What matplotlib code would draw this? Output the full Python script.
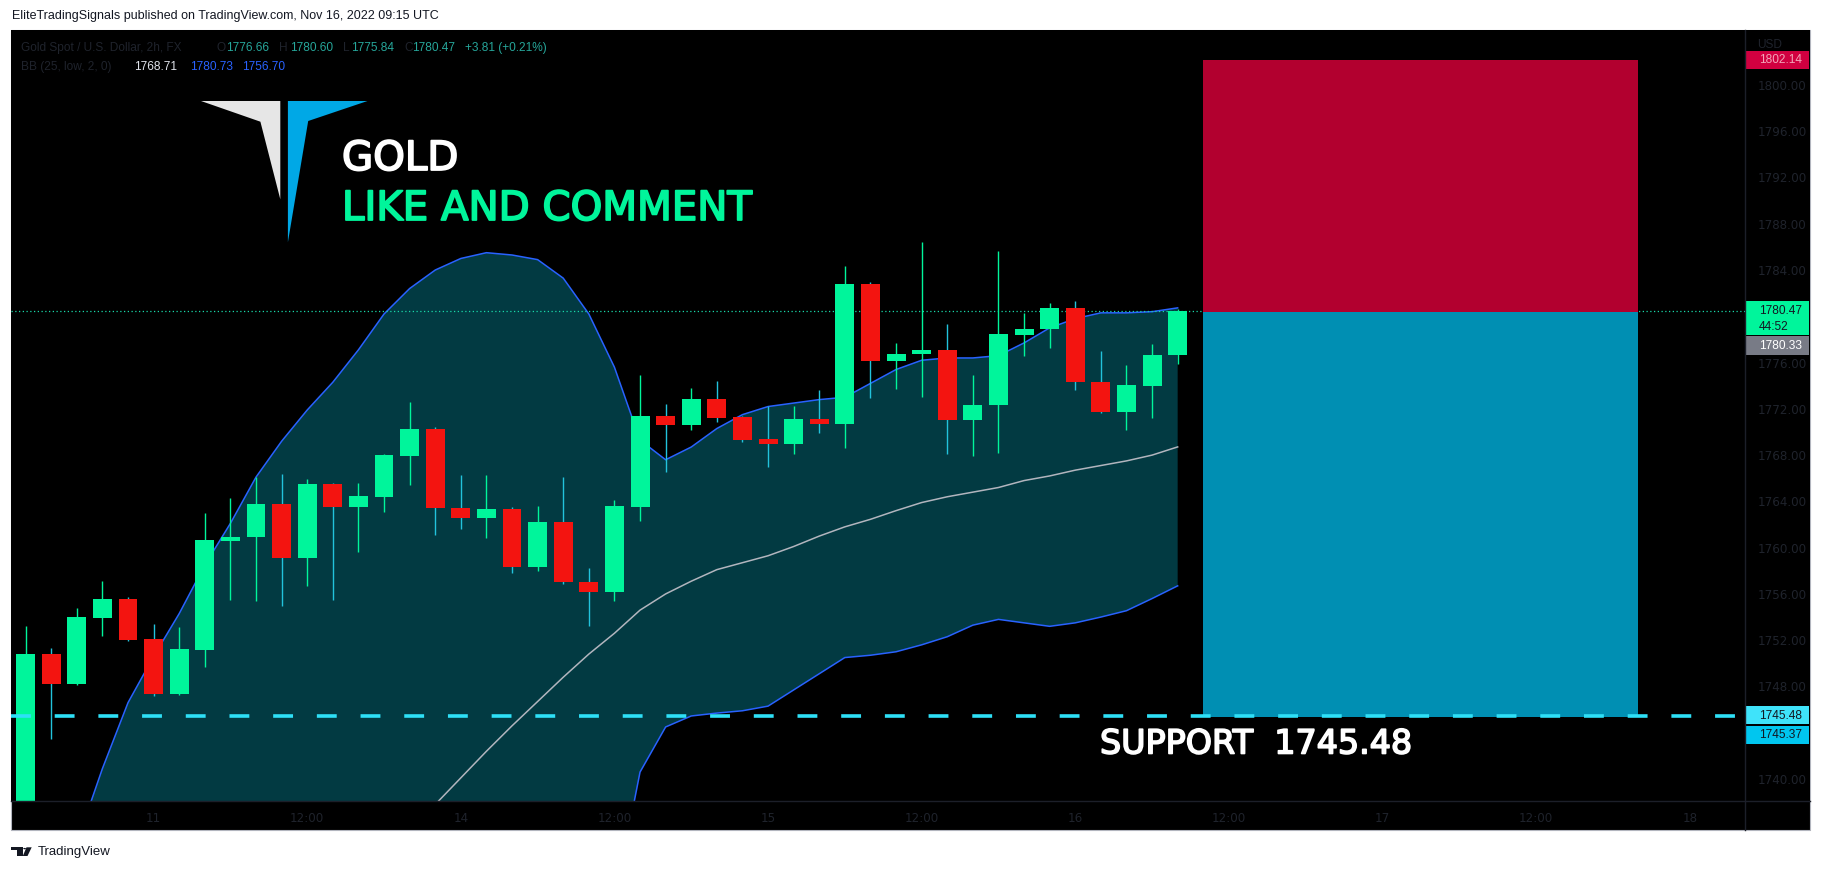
import numpy as np
import matplotlib.pyplot as plt
import matplotlib.patheffects as pe
from matplotlib.patches import Rectangle, Polygon, Circle
from matplotlib.lines import Line2D

W, H = 1823, 872

# Gold Spot / USD, 2h bars (Nov 10 14:00 UTC -> Nov 16 08:00 UTC)
opens = [1736.5, 1750.8, 1748.2, 1753.9, 1755.6, 1752.1, 1747.35, 1751.15, 1760.6, 1760.9,
         1763.8, 1759.1, 1765.5, 1763.5, 1764.4, 1767.95, 1770.3, 1763.4, 1762.6, 1763.3,
         1758.3, 1762.2, 1757.0, 1756.2, 1763.55, 1771.4, 1770.6, 1772.85, 1771.3, 1769.4,
         1769.0, 1771.1, 1770.7, 1782.8, 1776.1, 1776.7, 1777.1, 1771.0, 1772.3, 1778.4,
         1778.9, 1780.7, 1774.3, 1771.7, 1774.0, 1776.66]
highs = [1753.2, 1751.3, 1754.8, 1757.1, 1755.7, 1753.4, 1753.1, 1763.0, 1764.3, 1766.1,
         1766.4, 1765.9, 1765.6, 1765.6, 1768.1, 1772.6, 1770.4, 1766.3, 1766.3, 1763.5,
         1763.6, 1766.1, 1758.2, 1764.1, 1774.9, 1772.4, 1773.8, 1774.4, 1771.4, 1772.25,
         1772.25, 1773.6, 1784.35, 1783.0, 1777.7, 1786.4, 1779.3, 1774.9, 1785.65, 1780.3,
         1781.15, 1781.3, 1777.0, 1775.8, 1777.6, 1780.60]
lows = [1735.8, 1743.5, 1748.1, 1752.4, 1751.9, 1747.2, 1747.3, 1749.7, 1755.5, 1755.4,
        1755.0, 1756.7, 1755.5, 1759.6, 1763.1, 1765.4, 1761.1, 1761.6, 1760.8, 1757.8,
        1758.0, 1756.9, 1753.2, 1755.4, 1762.3, 1766.5, 1770.2, 1770.9, 1769.1, 1767.0,
        1768.1, 1769.9, 1768.6, 1772.9, 1773.7, 1773.05, 1768.1, 1767.95, 1768.2, 1776.6,
        1777.3, 1773.6, 1771.6, 1770.2, 1771.2, 1775.84]
closes = [1750.8, 1748.2, 1754.0, 1755.6, 1752.0, 1747.35, 1751.2, 1760.7, 1760.9, 1763.8,
          1759.1, 1765.5, 1763.5, 1764.5, 1768.0, 1770.3, 1763.4, 1762.6, 1763.3, 1758.3,
          1762.2, 1757.0, 1756.2, 1763.6, 1771.4, 1770.6, 1772.85, 1771.25, 1769.3, 1769.0,
          1771.1, 1770.7, 1782.8, 1776.1, 1776.7, 1777.1, 1771.0, 1772.3, 1778.5, 1778.9,
          1780.7, 1774.3, 1771.7, 1774.06, 1776.66, 1780.47]

# Bollinger Bands (25, low, 2, 0)
bb_upper = [1724.0, 1729.0, 1734.5, 1740.9, 1746.6, 1750.6, 1754.3, 1758.5, 1762.1, 1766.1,
            1769.2, 1771.9, 1774.3, 1777.1, 1780.2, 1782.4, 1784.0, 1785.0, 1785.5, 1785.3,
            1784.9, 1783.3, 1780.2, 1775.6, 1769.3, 1767.6, 1768.7, 1770.3, 1771.5, 1772.2,
            1772.5, 1772.8, 1773.0, 1774.2, 1775.4, 1776.2, 1776.4, 1776.4, 1776.6, 1777.7,
            1779.0, 1779.8, 1780.3, 1780.3, 1780.4, 1780.73]
bb_basis = [1712.0, 1714.0, 1716.0, 1718.0, 1720.0, 1722.0, 1724.0, 1726.0, 1728.0, 1729.5,
            1731.0, 1732.5, 1734.0, 1735.0, 1736.0, 1737.0, 1737.8, 1740.1, 1742.4, 1744.6,
            1746.7, 1748.8, 1750.8, 1752.6, 1754.6, 1756.0, 1757.1, 1758.1, 1758.7, 1759.3,
            1760.1, 1761.0, 1761.8, 1762.45, 1763.2, 1763.9, 1764.4, 1764.8, 1765.2, 1765.8,
            1766.2, 1766.7, 1767.1, 1767.5, 1768.0, 1768.71]
bb_lower = [1700.0, 1699.0, 1697.5, 1695.0, 1693.4, 1693.4, 1693.7, 1693.5, 1693.9, 1692.9,
            1692.8, 1693.1, 1693.7, 1692.9, 1691.8, 1691.6, 1691.6, 1695.2, 1699.3, 1703.9,
            1708.5, 1714.3, 1721.4, 1729.4, 1740.6, 1744.5, 1745.45, 1745.7, 1745.9, 1746.3,
            1747.7, 1749.1, 1750.5, 1750.7, 1751.0, 1751.6, 1752.3, 1753.3, 1753.8, 1753.5,
            1753.2, 1753.5, 1754.0, 1754.55, 1755.6, 1756.70]

time_ticks = [6, 12, 18, 24, 30, 36, 42, 48, 54, 60, 66]
time_labels = ['11', '12:00', '14', '12:00', '15', '12:00', '16', '12:00', '17', '12:00', '18']
# 1744 and 1780 sit under the price labels, so the scale hides them
price_ticks = [1740, 1748, 1752, 1756, 1760, 1764, 1768, 1772, 1776,
               1784, 1788, 1792, 1796, 1800]

last_price = 1780.47
entry = 1780.33
stop = 1802.14
target = 1745.37
support = 1745.48
pos_start, pos_end = 47, 64

GREEN = '#00f59b'
RED = '#f31410'
WICK_DN = '#22c3dc'
BAND = '#2962ff'
DIM = '#1f232c'

ymin, ymax = 1738.10, 1804.75
xmin, xmax = 0.43, 68.16


def fx(px):
    return px / W


def fy(py):
    return 1 - py / H


fig = plt.figure(figsize=(W / 100, H / 100), dpi=100, facecolor='white')

# black pane behind everything
fig.add_artist(Rectangle((fx(11), fy(830)), fx(1810) - fx(11), fy(30) - fy(830),
                         transform=fig.transFigure, facecolor='black',
                         edgecolor='#b2b5be', lw=0.8, zorder=-1))

ax = fig.add_axes([fx(11), fy(801), fx(1745) - fx(11), fy(30) - fy(801)])
ax.set_facecolor('black')
for s in ax.spines.values():
    s.set_visible(False)
ax.set_xlim(xmin, xmax)
ax.set_ylim(ymin, ymax)
ax.set_yticks([])
ax.set_xticks(time_ticks, time_labels)
ax.tick_params(axis='x', length=0, pad=8, labelsize=8.6, labelcolor=DIM)

x = np.arange(1, len(opens) + 1)
o = np.array(opens)
c = np.array(closes)
up = c >= o

# bollinger bands
ax.fill_between(x, bb_lower, bb_upper, color='#023a42', lw=0, zorder=1)
ax.plot(x, bb_upper, color=BAND, lw=1.1, zorder=2)
ax.plot(x, bb_lower, color=BAND, lw=1.1, zorder=2)
ax.plot(x, bb_basis, color='#b2b5be', lw=1.1, zorder=2)

# candles
ax.vlines(x, lows, highs, colors=np.where(up, GREEN, WICK_DN), lw=1, zorder=3)
body_lo = np.minimum(o, c)
body_h = np.maximum(np.abs(c - o), 0.12)
ax.bar(x, body_h, bottom=body_lo, width=0.74, color=np.where(up, GREEN, RED),
       lw=0, zorder=4)

# last price line
ax.axhline(last_price, color='#19d9a8', lw=0.9, ls=(0, (1, 2)), zorder=2)

# short position tool
ax.add_patch(Rectangle((pos_start, entry), pos_end - pos_start, stop - entry,
                       facecolor='#b2002f', lw=0, zorder=3))
ax.add_patch(Rectangle((pos_start, target), pos_end - pos_start, entry - target,
                       facecolor='#008fb3', lw=0, zorder=3))

# support line
ax.axhline(support, color='#2ee0f7', lw=2.6, dashes=(5.5, 6.6), zorder=5)

# price scale
pax = fig.add_axes([fx(1745), fy(801), fx(1810) - fx(1745), fy(30) - fy(801)])
pax.set_facecolor('black')
for s in pax.spines.values():
    s.set_visible(False)
pax.set_xlim(0, 65)
pax.set_ylim(ymin, ymax)
pax.set_xticks([])
pax.yaxis.tick_right()
pax.set_yticks(price_ticks, [f'{v:.2f}' for v in price_ticks])
pax.tick_params(axis='y', length=0, pad=-37.7, labelsize=8.6, labelcolor=DIM)

k = 771 / (ymax - ymin)  # pixels per dollar


def price_box(top, h_px, fc):
    pax.add_patch(Rectangle((0, top - h_px / k), 64, h_px / k, facecolor=fc,
                            lw=0, zorder=3))
    return top - h_px / k


def box_text(price, s, col):
    pax.text(14, price, s, color=col, fontsize=8.6, va='center', ha='left',
             family='Liberation Sans', zorder=4)


pax.text(12, ymax - 15 / k, 'USD', color=DIM, fontsize=8.6, va='center',
         family='Liberation Sans')

# stop label
price_box(stop + 9 / k, 18, '#d10040')
box_text(stop, f'{stop:.2f}', '#f2a5b8')

# last price + countdown
g_bot = price_box(last_price + 9.6 / k, 34, GREEN)
box_text(last_price, f'{last_price:.2f}', '#131722')
box_text(last_price - 16.5 / k, '44:52', '#131722')

# entry label pushed below
e_bot = price_box(g_bot - 1 / k, 19, '#787b86')
box_text(e_bot + 9.5 / k, f'{entry:.2f}', 'white')

# support / target labels
s_bot = price_box(support + 9.6 / k, 18, '#3fe3fa')
box_text(support, f'{support:.2f}', '#131722')
t_bot = price_box(s_bot - 2 / k, 18, '#00c6ef')
box_text(t_bot + 9 / k, f'{target:.2f}', '#131722')

# separators
fig.add_artist(Line2D([fx(1745), fx(1745)], [fy(30), fy(830)], transform=fig.transFigure,
                      color='#1c1f29', lw=1, zorder=2))
fig.add_artist(Line2D([fx(11), fx(1810)], [fy(801), fy(801)], transform=fig.transFigure,
                      color='#1c1f29', lw=1, zorder=2))

# header texts
fig.text(fx(12), fy(16), 'EliteTradingSignals published on TradingView.com, Nov 16, 2022 09:15 UTC',
         fontsize=9, family='Liberation Sans', color='#131722', va='center')

TEAL = '#26a69a'
hdr1 = [(20.6, 'Gold Spot / U.S. Dollar, 2h, FX', DIM), (216.7, 'O', DIM), (226, '1776.66', TEAL),
        (279.5, 'H', DIM), (290, '1780.60', TEAL), (343, 'L', DIM), (351, '1775.84', TEAL),
        (404, 'C', DIM), (412, '1780.47', TEAL), (465, '+3.81 (+0.21%)', TEAL)]
for px, s, col in hdr1:
    fig.text(fx(px), fy(48), s, fontsize=8.6, family='Liberation Sans', color=col, va='center')
hdr2 = [(20.6, 'BB (25, low, 2, 0)', DIM), (134, '1768.71', '#e0e3eb'),
        (190, '1780.73', BAND), (242, '1756.70', BAND)]
for px, s, col in hdr2:
    fig.text(fx(px), fy(67), s, fontsize=8.6, family='Liberation Sans', color=col, va='center')

# logo
white_pts = [(201, 101), (280.3, 101), (280.3, 199.3), (260.4, 121.7)]
blue_pts = [(287.9, 101), (367.5, 101), (308.2, 121), (287.9, 242.3)]
fig.add_artist(Polygon([(fx(a), fy(b)) for a, b in white_pts], closed=True,
                       transform=fig.transFigure, facecolor='#e6e6e6', lw=0, zorder=3))
fig.add_artist(Polygon([(fx(a), fy(b)) for a, b in blue_pts], closed=True,
                       transform=fig.transFigure, facecolor='#00a8e6', lw=0, zorder=3))

# slightly heavier strokes for the drawn texts
fig.text(fx(342), fy(170), 'GOLD', fontsize=29, color='white', va='baseline',
         path_effects=[pe.withStroke(linewidth=1.3, foreground='white')])
fig.text(fx(342), fy(220), 'LIKE AND COMMENT', fontsize=29, color=GREEN, va='baseline',
         path_effects=[pe.withStroke(linewidth=1.3, foreground=GREEN)])
fig.text(fx(1100), fy(744), 'SUPPORT  1745.48', fontsize=24, color='white', va='center',
         path_effects=[pe.withStroke(linewidth=1.2, foreground='white')])

# TradingView footer
fig.add_artist(Rectangle((fx(11), fy(850)), fx(22.7) - fx(11), fy(847.3) - fy(850),
                         transform=fig.transFigure, facecolor='#131722', lw=0))
fig.add_artist(Rectangle((fx(16.7), fy(856)), fx(22.7) - fx(16.7), fy(847.3) - fy(856),
                         transform=fig.transFigure, facecolor='#131722', lw=0))
fig.add_artist(Polygon([(fx(a), fy(b)) for a, b in [(26.5, 847.3), (31.7, 847.3), (27.5, 856), (22.8, 856)]],
                       closed=True, transform=fig.transFigure, facecolor='#131722', lw=0))
fig.add_artist(Circle((fx(24.6), fy(848.6)), 1.4 / W, transform=fig.transFigure,
                      facecolor='#131722', lw=0))
fig.text(fx(38), fy(852), 'TradingView', fontsize=9.5, family='Liberation Sans',
         color='#131722', va='center')

fig.savefig('out.png', dpi=100, facecolor='white')
